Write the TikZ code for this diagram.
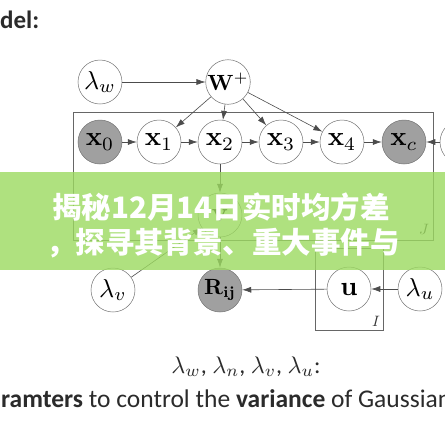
\documentclass[tikz,border=0pt]{standalone}
\usepackage[no-math]{fontspec}
\usetikzlibrary{arrows.meta}
\setmainfont{Carlito}
\newfontfamily\cjk{Noto Sans CJK SC}
\definecolor{txt}{HTML}{2B2B2B}
\definecolor{banner}{RGB}{156,218,96}
\definecolor{obsfill}{RGB}{160,160,160}
\newcommand\nlab[2]{\scalebox{#1}{$#2$}}
\tikzset{
  pnode/.style={circle, draw=black!55, line width=0.5pt, minimum size=44pt, inner sep=0pt, font=\fontsize{10}{12}\selectfont},
  obs/.style={pnode, fill=obsfill},
  arr/.style={draw=black!70, line width=0.6pt, -{Latex[length=9pt,width=6pt]}},
  plate/.style={draw=black!60, line width=0.7pt},
  platelabel/.style={font=\fontsize{10}{10}\selectfont, inner sep=0pt, text=black!80},
  cjktext/.style={text=white, font=\cjk\bfseries\fontsize{29.5}{30}\selectfont, inner sep=0pt}
}
\begin{document}
\begin{tikzpicture}[x=1pt,y=-1pt]
\useasboundingbox (0,0) rectangle (445,445);
\clip (0,0) rectangle (445,445);
\fill[white] (0,0) rectangle (445,445);
% heading
\node[anchor=base west, inner sep=0pt, text=txt, font=\bfseries\fontsize{25}{25}\selectfont] (head) at (0,28) {del:};
% plates
\draw[plate] (73,112) rectangle (433,240);
\node[platelabel] (jlab) at (424,229) {\nlab{1.5}{J}};
\draw[plate] (315,248) rectangle (383,330);
\node[platelabel] (ilab) at (376,321) {\nlab{1.5}{I}};
% nodes
\node[pnode] (lw) at (100,82) {\nlab{2.6}{\lambda_w}};
\node[pnode] (W) at (228,82) {\nlab{2.2}{\mathbf{W}^{+}}};
\node[obs] (x0) at (100,142) {\nlab{2.7}{\mathbf{x}_0}};
\node[pnode] (x1) at (159,142) {\nlab{2.7}{\mathbf{x}_1}};
\node[pnode] (x2) at (220,142) {\nlab{2.7}{\mathbf{x}_2}};
\node[pnode] (x3) at (281,142) {\nlab{2.7}{\mathbf{x}_3}};
\node[pnode] (x4) at (342,142) {\nlab{2.7}{\mathbf{x}_4}};
\node[obs] (xc) at (404,142) {\nlab{2.7}{\mathbf{x}_c}};
\node[pnode] (xn) at (462,142) {};
\node[pnode] (v) at (220,215) {\nlab{2.7}{\mathbf{v}}};
\node[obs] (R) at (220,290) {\nlab{2.2}{\mathbf{R}_{\mathbf{ij}}}};
\node[pnode] (lv) at (113,290) {\nlab{2.6}{\lambda_v}};
\node[pnode] (u) at (349,289) {\nlab{2.7}{\mathbf{u}}};
\node[pnode] (lu) at (420,289) {\nlab{2.6}{\lambda_u}};
% edges
\draw[arr] (lw) -- (W);
\draw[arr] (W) -- (x1);
\draw[arr] (W) -- (x2);
\draw[arr] (W) -- (x3);
\draw[arr] (W) -- (x4);
\draw[arr] (x0) -- (x1);
\draw[arr] (x1) -- (x2);
\draw[arr] (x2) -- (x3);
\draw[arr] (x3) -- (x4);
\draw[arr] (x4) -- (xc);
\draw[arr] (xn) -- (xc);
\draw[arr] (x2) -- (v);
\draw[arr] (v) -- (R);
\draw[arr] (lv) -- (v);
\draw[arr] (u) -- (R);
\draw[arr] (lu) -- (u);
% banner
\fill[banner, opacity=0.8] (0,172) rectangle (445,270);
\node[cjktext] (t1) at (221,207) {揭秘12月14日实时均方差};
\node[cjktext] (t2) at (223,243) {，探寻其背景、重大事件与};
% bottom text
\node[anchor=base, inner sep=0pt, text=txt, font=\fontsize{10}{10}\selectfont] (lams) at (246,373) {\scalebox{2.4}{$\lambda_w$, $\lambda_n$, $\lambda_v$, $\lambda_u$:}};
\node[anchor=base west, inner sep=0pt, text=txt, font=\fontsize{25.5}{26}\selectfont] (desc) at (1,407) {\textbf{ramters} to control the \textbf{variance} of Gaussian};
\end{tikzpicture}
\end{document}
